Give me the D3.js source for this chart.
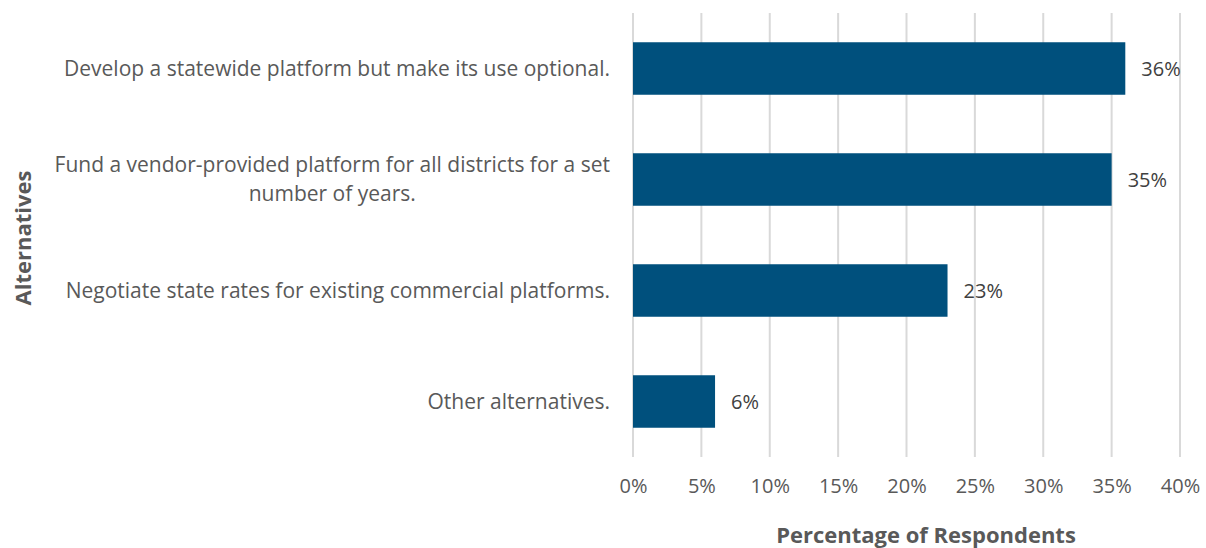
<!DOCTYPE html>
<html>
<head>
<meta charset="utf-8">
<script src="https://cdn.jsdelivr.net/npm/d3@7"></script>
<style>
  html, body { margin: 0; padding: 0; background: #ffffff; }
  svg { display: block; font-family: "Open Sans", "Noto Sans", sans-serif; }
</style>
</head>
<body>
<svg id="chart" width="1206" height="548"></svg>
<script>
// Survey alternatives (label lines) and share of respondents (%)
const categories = [
  ["Develop a statewide platform but make its use optional."],
  ["Fund a vendor-provided platform for all districts for a set", "number of years."],
  ["Negotiate state rates for existing commercial platforms."],
  ["Other alternatives."]
];
const values = [36, 35, 23, 6];
const tickValues = [0, 5, 10, 15, 20, 25, 30, 35, 40];

const svg = d3.select("#chart");
const plotLeft = 633, plotRight = 1180, plotTop = 13, plotBottom = 457;
const textColor = "#595959";
const barColor = "#00507d";
const labelSize = 21, tickSize = 20, titleSize = 22;

const x = d3.scaleLinear().domain([0, 40]).range([plotLeft, plotRight]);
const y = d3.scaleBand()
  .domain(d3.range(categories.length))
  .range([plotTop, plotBottom])
  .paddingInner(0.527)
  .paddingOuter(0.2635);

// vertical gridlines
svg.append("g")
  .selectAll("line")
  .data(tickValues)
  .join("line")
  .attr("x1", d => x(d)).attr("x2", d => x(d))
  .attr("y1", plotTop).attr("y2", plotBottom)
  .attr("stroke", "#d9d9d9")
  .attr("stroke-width", 2);

// x axis tick labels
const xAxis = d3.axisBottom(x).tickValues(tickValues).tickFormat(d => d + "%").tickSize(0).tickPadding(0);
const gx = svg.append("g").attr("transform", `translate(0,${plotBottom + 22})`).call(xAxis);
gx.select(".domain").remove();
gx.selectAll("text")
  .attr("fill", textColor)
  .attr("font-size", tickSize)
  .attr("font-family", "Open Sans, sans-serif");

// bars
svg.append("g")
  .selectAll("rect")
  .data(values)
  .join("rect")
  .attr("x", x(0))
  .attr("y", (d, i) => y(i))
  .attr("width", d => x(d) - x(0))
  .attr("height", y.bandwidth())
  .attr("fill", barColor);

// value labels
svg.append("g")
  .selectAll("text")
  .data(values)
  .join("text")
  .attr("x", d => x(d) + 16)
  .attr("y", (d, i) => y(i) + y.bandwidth() / 2)
  .attr("dy", "0.35em")
  .attr("fill", "#404040")
  .attr("font-size", tickSize)
  .text(d => d + "%");

// category labels
const lineH = 29;
const labelG = svg.append("g");
categories.forEach((lines, i) => {
  const cy = y(i) + y.bandwidth() / 2;
  const t = labelG.append("text")
    .attr("fill", textColor)
    .attr("font-size", labelSize);
  if (lines.length === 1) {
    t.attr("x", 610).attr("y", cy).attr("dy", "0.35em").attr("text-anchor", "end").text(lines[0]);
  } else {
    // multi-line label: lines centred on each other, block right-aligned
    const tmp = labelG.append("text").attr("font-size", labelSize).text(lines[0]);
    const w = tmp.node().getComputedTextLength();
    tmp.remove();
    const cx = 610 - w / 2;
    t.attr("text-anchor", "middle");
    lines.forEach((ln, k) => {
      t.append("tspan")
        .attr("x", cx)
        .attr("y", cy + (k - (lines.length - 1) / 2) * lineH)
        .attr("dy", "0.35em")
        .text(ln);
    });
  }
});

// axis titles
svg.append("text")
  .attr("x", 926).attr("y", 535).attr("dy", "0.35em")
  .attr("text-anchor", "middle")
  .attr("fill", textColor)
  .attr("font-size", titleSize)
  .attr("font-weight", "bold")
  .text("Percentage of Respondents");

svg.append("text")
  .attr("transform", `translate(23,${(plotTop + plotBottom) / 2 + 3}) rotate(-90)`)
  .attr("dy", "0.35em")
  .attr("text-anchor", "middle")
  .attr("fill", textColor)
  .attr("font-size", titleSize)
  .attr("font-weight", "bold")
  .text("Alternatives");
</script>
</body>
</html>
